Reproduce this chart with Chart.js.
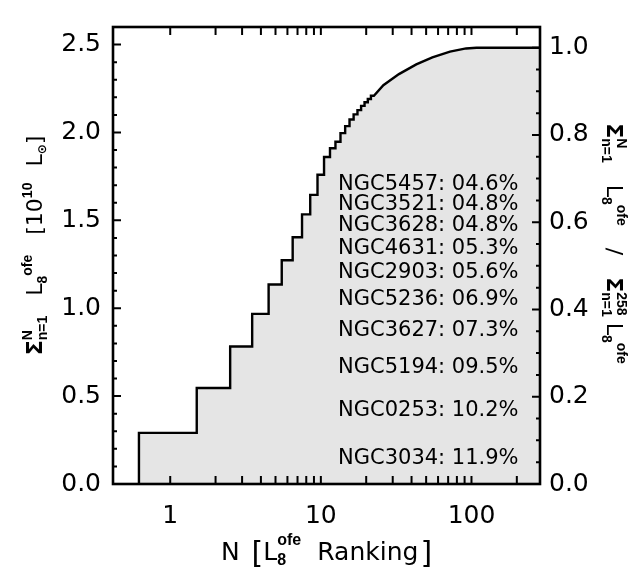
<!DOCTYPE html>
<html>
<head>
<meta charset="utf-8">
<script src="https://cdn.jsdelivr.net/npm/chart.js@4.4.0/dist/chart.umd.min.js"></script>
<style>
  html, body { margin: 0; padding: 0; background: #fff; }
</style>
</head>
<body>
<canvas id="chart1" width="642" height="568"></canvas>
<script>
// cumulative L8 (10^10 Lsun) for the brightest galaxies, one step per rank
const stepRanks = [1, 2, 3, 4, 5, 6, 7, 8, 9, 10, 11, 12, 13, 14, 15, 16, 17, 18, 19, 20, 21, 22];
const stepCum = [0.291, 0.546, 0.782, 0.968, 1.135, 1.273, 1.404, 1.534, 1.645, 1.759, 1.860,
                 1.910, 1.947, 1.996, 2.036, 2.074, 2.103, 2.127, 2.151, 2.172, 2.190, 2.209];
// further down the ranking the single steps are too small to see
const tailRanks = [26, 33, 43, 55, 72, 92, 108, 258];
const tailCum = [2.269, 2.332, 2.387, 2.427, 2.460, 2.478, 2.482, 2.482];
const firstEdge = 0.62;

const galaxies = ['NGC3034', 'NGC0253', 'NGC5194', 'NGC3627', 'NGC5236',
                  'NGC2903', 'NGC4631', 'NGC3628', 'NGC3521', 'NGC5457'];
const shares = ['11.9%', '10.2%', '09.5%', '07.3%', '06.9%', '05.6%', '05.3%', '04.8%', '04.8%', '04.6%'];

const xTicks = [1, 10, 100];
const yTicks = [0, 0.5, 1.0, 1.5, 2.0, 2.5];
const fracTicks = [0, 0.2, 0.4, 0.6, 0.8, 1.0];

const xMin = 0.417, xMax = 285;
const yMax = 2.6;
const total = tailCum[tailCum.length - 1];

// step outline
const pts = [{x: firstEdge, y: 0}];
stepRanks.forEach((n, i) => {
  pts.push({x: i === 0 ? firstEdge : n - 0.5, y: stepCum[i]});
  pts.push({x: n + 0.5, y: stepCum[i]});
});
tailRanks.forEach((n, i) => pts.push({x: n, y: tailCum[i]}));
pts.push({x: xMax, y: total});

const TICKFONT = {family: 'DejaVu Sans', size: 25};
const MAIN = '22px "DejaVu Sans"';
const SIG = 'bold 22px "DejaVu Sans"';
const SCR = 'bold 14px "Liberation Sans"';

function itemWidth(ctx, it) {
  if (it.gap !== undefined) return it.gap;
  const list = Array.isArray(it) ? it : [it];
  let m = 0;
  list.forEach(p => { ctx.font = p.f; m = Math.max(m, ctx.measureText(p.t).width); });
  return m;
}

function drawRich(ctx, items, cx, cy, angle) {
  ctx.save();
  ctx.translate(cx, cy);
  ctx.rotate(angle);
  ctx.textAlign = 'left';
  ctx.textBaseline = 'alphabetic';
  ctx.fillStyle = '#000';
  let x = -items.reduce((s, it) => s + itemWidth(ctx, it), 0) / 2;
  items.forEach(it => {
    if (it.gap === undefined) {
      (Array.isArray(it) ? it : [it]).forEach(p => {
        ctx.font = p.f;
        ctx.fillText(p.t, x, p.dy || 0);
      });
    }
    x += itemWidth(ctx, it);
  });
  ctx.restore();
}

const leftTitle = [
  {t: 'Σ', f: SIG},
  [{t: 'N', f: SCR, dy: -10}, {t: 'n=1', f: SCR, dy: 5}],
  {gap: 20},
  {t: 'L', f: MAIN}, {t: '8', f: SCR, dy: 5}, {t: 'ofe', f: SCR, dy: -10},
  {gap: 20},
  {t: '[', f: MAIN}, {t: '10', f: MAIN}, {t: '10', f: SCR, dy: -10},
  {gap: 16}, {t: 'L', f: MAIN}, {t: '⊙', f: 'bold 12px "DejaVu Sans"', dy: 4}, {t: ']', f: MAIN}
];

const rightTitle = [
  {t: 'Σ', f: SIG},
  [{t: 'N', f: SCR, dy: -10}, {t: 'n=1', f: SCR, dy: 5}],
  {gap: 22},
  {t: 'L', f: MAIN}, {t: '8', f: SCR, dy: 5}, {t: 'ofe', f: SCR, dy: -10},
  {gap: 22}, {t: '/', f: MAIN}, {gap: 22},
  {t: 'Σ', f: SIG},
  [{t: '258', f: SCR, dy: -10}, {t: 'n=1', f: SCR, dy: 5}],
  {gap: 6},
  {t: 'L', f: MAIN}, {t: '8', f: SCR, dy: 5}, {t: 'ofe', f: SCR, dy: -10}
];

const bottomTitle = [
  {t: 'N', f: '25px "DejaVu Sans"'},
  {gap: 12},
  {t: '[', f: '30px "DejaVu Sans"', dy: 3},
  {t: 'L', f: '25px "DejaVu Sans"'},
  [{t: 'ofe', f: 'bold 16px "Liberation Sans"', dy: -15}, {t: '8', f: 'bold 16px "Liberation Sans"', dy: 5}],
  {gap: 16},
  {t: 'Ranking', f: '25px "DejaVu Sans"'},
  {gap: 2},
  {t: ']', f: '30px "DejaVu Sans"', dy: 3}
];

const frame = {
  id: 'frame',
  afterDatasetsDraw(chart) {
    const {ctx, chartArea: a, scales} = chart;
    const sx = scales.x, sy = scales.y, sf = scales.y2;
    ctx.save();
    ctx.strokeStyle = '#000';
    ctx.lineCap = 'butt';

    // galaxy shares, centred on their own step
    ctx.fillStyle = '#000';
    ctx.font = '21px "DejaVu Sans"';
    ctx.textAlign = 'left';
    ctx.textBaseline = 'middle';
    const lx = sx.getPixelForValue(13);
    galaxies.forEach((g, i) => {
      const lo = i === 0 ? 0 : stepCum[i - 1];
      const py = sy.getPixelForValue((lo + stepCum[i]) / 2);
      ctx.fillText(g + ': ' + shares[i], lx, py);
    });

    // ticks
    ctx.lineWidth = 2;
    ctx.beginPath();
    for (let d = 1; d <= 100; d *= 10) {
      for (let k = 1; k <= 9; k++) {
        const v = k * d;
        if (v > xMax) continue;
        const px = sx.getPixelForValue(v);
        ctx.moveTo(px, a.bottom); ctx.lineTo(px, a.bottom - 8);
        ctx.moveTo(px, a.top); ctx.lineTo(px, a.top + 8);
      }
    }
    for (let k = 0; k <= 25; k++) {
      const py = sy.getPixelForValue(k / 10);
      const len = k % 5 === 0 ? 8 : 4;
      ctx.moveTo(a.left, py); ctx.lineTo(a.left + len, py);
    }
    for (let k = 0; k <= 20; k++) {
      const py = sf.getPixelForValue(k / 20);
      const len = k % 4 === 0 ? 8 : 4;
      ctx.moveTo(a.right, py); ctx.lineTo(a.right - len, py);
    }
    ctx.stroke();

    ctx.lineWidth = 2.6;
    ctx.strokeRect(a.left, a.top, a.right - a.left, a.bottom - a.top);
    ctx.restore();

    drawRich(ctx, leftTitle, 42, (a.top + a.bottom) / 2 - 10, -Math.PI / 2);
    drawRich(ctx, rightTitle, 607, (a.top + a.bottom) / 2 - 12, Math.PI / 2);
    drawRich(ctx, bottomTitle, (a.left + a.right) / 2, 560, 0);
  }
};

new Chart(document.getElementById('chart1'), {
  type: 'line',
  data: {
    datasets: [{
      data: pts,
      borderColor: '#000',
      borderWidth: 2.4,
      backgroundColor: '#e5e5e5',
      fill: 'origin',
      pointRadius: 0,
      tension: 0,
      xAxisID: 'x',
      yAxisID: 'y'
    }]
  },
  options: {
    responsive: false,
    animation: false,
    layout: {padding: {top: 8, left: 0, right: 0, bottom: 0}},
    plugins: {legend: {display: false}, tooltip: {enabled: false}},
    scales: {
      x: {
        type: 'logarithmic',
        position: 'bottom',
        min: xMin,
        max: xMax,
        grid: {display: false, drawTicks: false},
        border: {display: false},
        afterBuildTicks: s => { s.ticks = xTicks.map(v => ({value: v})); },
        afterFit: s => { s.height = 84; },
        ticks: {font: TICKFONT, color: '#000', padding: 17, maxRotation: 0, autoSkip: false,
                callback: v => String(v)}
      },
      y: {
        type: 'linear',
        position: 'left',
        min: 0,
        max: yMax,
        grid: {display: false, drawTicks: false},
        border: {display: false},
        afterBuildTicks: s => { s.ticks = yTicks.map(v => ({value: v})); },
        afterFit: s => { s.width = 113; },
        ticks: {font: TICKFONT, color: '#000', padding: 12, autoSkip: false,
                callback: v => v.toFixed(1)}
      },
      y2: {
        type: 'linear',
        position: 'right',
        min: 0,
        max: yMax / total,
        grid: {display: false, drawTicks: false},
        border: {display: false},
        afterBuildTicks: s => { s.ticks = fracTicks.map(v => ({value: v})); },
        afterFit: s => { s.width = 102; },
        ticks: {font: TICKFONT, color: '#000', padding: 9, autoSkip: false,
                callback: v => v.toFixed(1)}
      }
    }
  },
  plugins: [frame]
});
</script>
</body>
</html>
